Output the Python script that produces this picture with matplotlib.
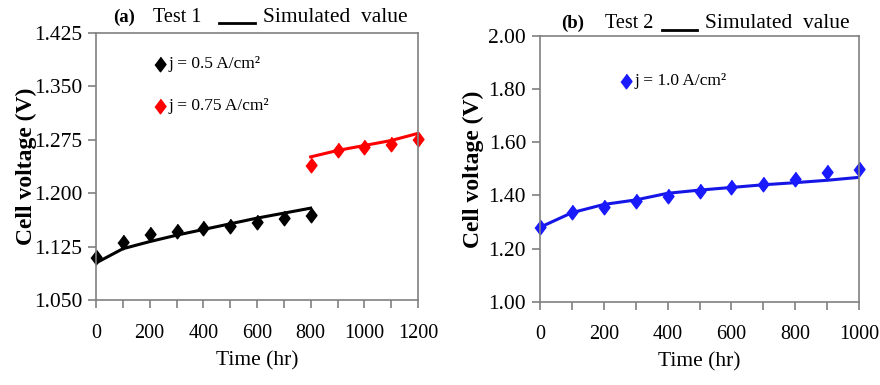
import matplotlib
matplotlib.use("Agg")
from matplotlib import pyplot as plt
from matplotlib.lines import Line2D

plt.rcParams['font.family'] = ['Liberation Serif', 'DejaVu Serif']

# test 1 data
t1_black = [0, 100, 200, 300, 400, 500, 600, 700, 800]
v1_black = [1.111, 1.131, 1.143, 1.147, 1.151, 1.154, 1.160, 1.165, 1.170]
sim1_black = [1.102, 1.122, 1.132, 1.141, 1.149, 1.157, 1.165, 1.172, 1.179]
t1_red = [800, 900, 1000, 1100, 1200]
v1_red = [1.239, 1.261, 1.265, 1.269, 1.276]
sim1_red = [1.251, 1.260, 1.267, 1.274, 1.284]

# test 2 data
t2 = [0, 100, 200, 300, 400, 500, 600, 700, 800, 900, 1000]
v2 = [1.280, 1.337, 1.358, 1.378, 1.397, 1.415, 1.433, 1.442, 1.460, 1.487, 1.500]
sim2 = [1.280, 1.335, 1.366, 1.383, 1.408, 1.420, 1.430, 1.440, 1.448, 1.457, 1.468]

diam = [(0, 1), (0.75, 0), (0, -1), (-0.75, 0)]
W, H = 880, 385

fig = plt.figure(figsize=(8.8, 3.85), dpi=100)
ax1 = fig.add_axes([96/W, 1-300/H, (418-96)/W, (300-33)/H])
ax2 = fig.add_axes([540/W, 1-301.7/H, (859-540)/W, (301.7-36)/H])


def style(ax, lp):
    for s in ax.spines.values():
        s.set_color('#808080')
        s.set_linewidth(1.2)
    ax.tick_params(direction='out', length=6, color='#808080', width=1.2)
    ax.tick_params(axis='x', labelsize=14.5, pad=11)
    ax.tick_params(axis='y', labelsize=15.5, pad=4)
    ax.set_xlabel("Time (hr)", fontsize=15.5, labelpad=6)
    ax.set_ylabel("Cell voltage (V)", fontsize=17, fontweight='bold', labelpad=lp)


# panel a
ax1.plot(t1_black, sim1_black, color='black', lw=2.2)
ax1.plot(t1_black, v1_black, ls='none', marker=diam, ms=10.5, color='black', clip_on=False)
ax1.plot(t1_red, sim1_red, color='red', lw=2.2)
ax1.plot(t1_red, v1_red, ls='none', marker=diam, ms=10.5, color='red', clip_on=False)
ax1.set_xlim(0, 1200)
ax1.set_ylim(1.05, 1.425)
ax1.set_xticks(range(0, 1201, 100))
ax1.set_xticklabels([str(v) if v % 200 == 0 else '' for v in range(0, 1201, 100)])
ax1.set_yticks([1.050, 1.125, 1.200, 1.275, 1.350, 1.425])
ax1.set_yticklabels(['1.050', '1.125', '1.200', '1.275', '1.350', '1.425'])
style(ax1, -2)

# panel b
ax2.plot(t2, sim2, color='#1515e6', lw=2.2)
ax2.plot(t2, v2, ls='none', marker=diam, ms=10.5, color='#1a1aff', clip_on=False)
ax2.set_xlim(0, 1000)
ax2.set_ylim(1.0, 2.0)
ax2.set_xticks(range(0, 1001, 100))
ax2.set_xticklabels([str(v) if v % 200 == 0 else '' for v in range(0, 1001, 100)])
ax2.set_yticks([1.0, 1.2, 1.4, 1.6, 1.8, 2.0])
ax2.set_yticklabels(['1.00', '1.20', '1.40', '1.60', '1.80', '2.00'])
style(ax2, 3)

# in-plot legends
ax1.plot([0.2], [0.885], transform=ax1.transAxes, marker=diam, ms=10.5, color='black', clip_on=False)
ax1.text(0.225, 0.885, "j = 0.5 A/cm²", transform=ax1.transAxes, fontsize=12.5, va='center')
ax1.plot([0.2], [0.725], transform=ax1.transAxes, marker=diam, ms=10.5, color='red', clip_on=False)
ax1.text(0.225, 0.725, "j = 0.75 A/cm²", transform=ax1.transAxes, fontsize=12.5, va='center')
ax2.plot([0.27], [0.83], transform=ax2.transAxes, marker=diam, ms=10.5, color='#1a1aff', clip_on=False)
ax2.text(0.295, 0.83, "j = 1.0 A/cm²", transform=ax2.transAxes, fontsize=12.5, va='center')

# header texts
fig.text(113/W, 1-17/H, "(a)", fontsize=13.5, fontweight='bold', va='center')
fig.text(153/W, 1-17/H, "Test 1", fontsize=14.5, va='center')
fig.add_artist(Line2D([219/W, 255/W], [1-23/H, 1-23/H], color='black', lw=2))
fig.text(263/W, 1-17/H, "Simulated  value", fontsize=15.5, va='center')
fig.text(561/W, 1-23/H, "(b)", fontsize=13.5, fontweight='bold', va='center')
fig.text(605/W, 1-23/H, "Test 2", fontsize=14.5, va='center')
fig.add_artist(Line2D([662/W, 697/W], [1-30/H, 1-30/H], color='black', lw=2))
fig.text(705/W, 1-23/H, "Simulated  value", fontsize=15.5, va='center')

fig.savefig("out.png", dpi=100)
